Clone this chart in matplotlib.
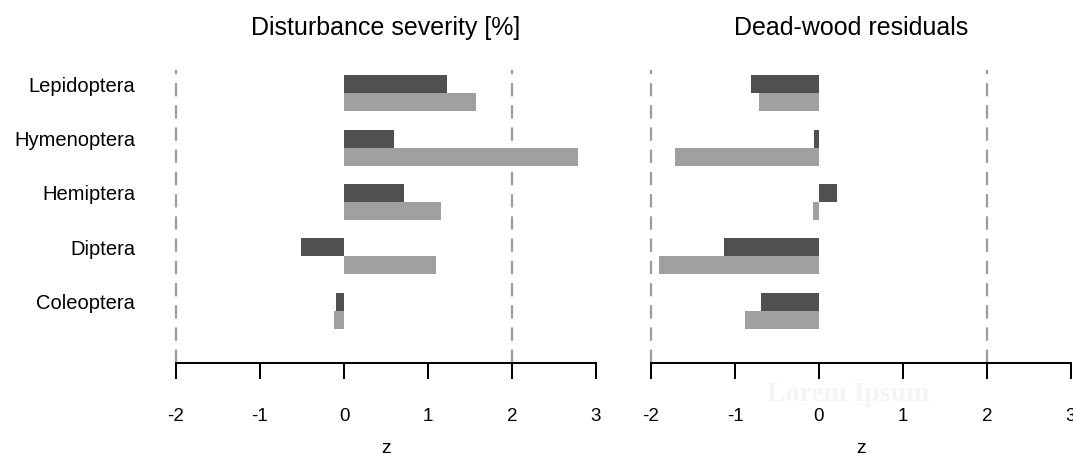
import numpy as np
import matplotlib
matplotlib.use('Agg')
import matplotlib.pyplot as plt

plt.rcParams['font.family'] = ['Liberation Sans', 'DejaVu Sans']

# insect orders, top to bottom
orders = ['Lepidoptera', 'Hymenoptera', 'Hemiptera', 'Diptera', 'Coleoptera']

# z values (dark = upper bar, light = lower bar)
severity_dark = [1.23, 0.60, 0.72, -0.51, -0.10]
severity_light = [1.57, 2.78, 1.15, 1.09, -0.12]
deadwood_dark = [-0.81, -0.06, 0.22, -1.13, -0.69]
deadwood_light = [-0.71, -1.72, -0.07, -1.90, -0.88]

titles = ['Disturbance severity [%]', 'Dead-wood residuals']
xticks = [-2, -1, 0, 1, 2, 3]

DARK = '#505050'
LIGHT = '#a0a0a0'
W, H = 1073, 453


def add_px_axes(fig, x0, x1, y0, y1):
    # axes placed in pixel coordinates (top-left origin)
    return fig.add_axes([x0 / W, 1 - y1 / H, (x1 - x0) / W, (y1 - y0) / H])


def draw_panel(ax, dark, light, title, title_x=0.5, show_labels=False):
    pos = np.arange(len(orders))[::-1]
    h = 0.3315
    ax.barh(pos + h / 2, dark, height=h, color=DARK, linewidth=0)
    ax.barh(pos - h / 2, light, height=h, color=LIGHT, linewidth=0)
    for v in (-2, 2):
        # the -2 line sits on the axes edge, so don't clip it
        ax.axvline(v, color='#9c9c9c', lw=1.6, dashes=(6, 4), zorder=0,
                   clip_on=False)
    ax.set_xlim(-2, 3)
    ax.set_ylim(-0.972, 4.429)
    for s in ['top', 'right', 'left']:
        ax.spines[s].set_visible(False)
    ax.spines['bottom'].set_linewidth(1.44)
    ax.spines['bottom'].set_bounds(-2, 3)
    ax.set_xticks(xticks)
    ax.set_xticklabels([str(t) for t in xticks])
    ax.tick_params(axis='x', length=11.5, width=1.44, pad=20.5, labelsize=13.5)
    if show_labels:
        ax.set_yticks(pos + h / 2)
        ax.set_yticklabels(orders)
        ax.tick_params(axis='y', length=0, pad=29.5, labelsize=14.5)
    else:
        ax.set_yticks([])
    ax.set_xlabel('z', fontsize=14, labelpad=11)
    ax.set_title(title, fontsize=18, x=title_x, pad=25)


fig = plt.figure(figsize=(W / 100, H / 100), dpi=100)
ax1 = add_px_axes(fig, 176, 596, 70, 363.3)
ax2 = add_px_axes(fig, 651, 1071, 70, 363.3)

draw_panel(ax1, severity_dark, severity_light, titles[0], show_labels=True)
draw_panel(ax2, deadwood_dark, deadwood_light, titles[1], title_x=0.477)

# faint watermark visible in the reference
ax2.text(0.47, -0.105, 'Lorem Ipsum', transform=ax2.transAxes, ha='center',
         va='center', fontsize=20, family='Liberation Serif', weight='bold',
         color='#f5f5f5', zorder=-1)

fig.savefig('out.png', dpi=100)
